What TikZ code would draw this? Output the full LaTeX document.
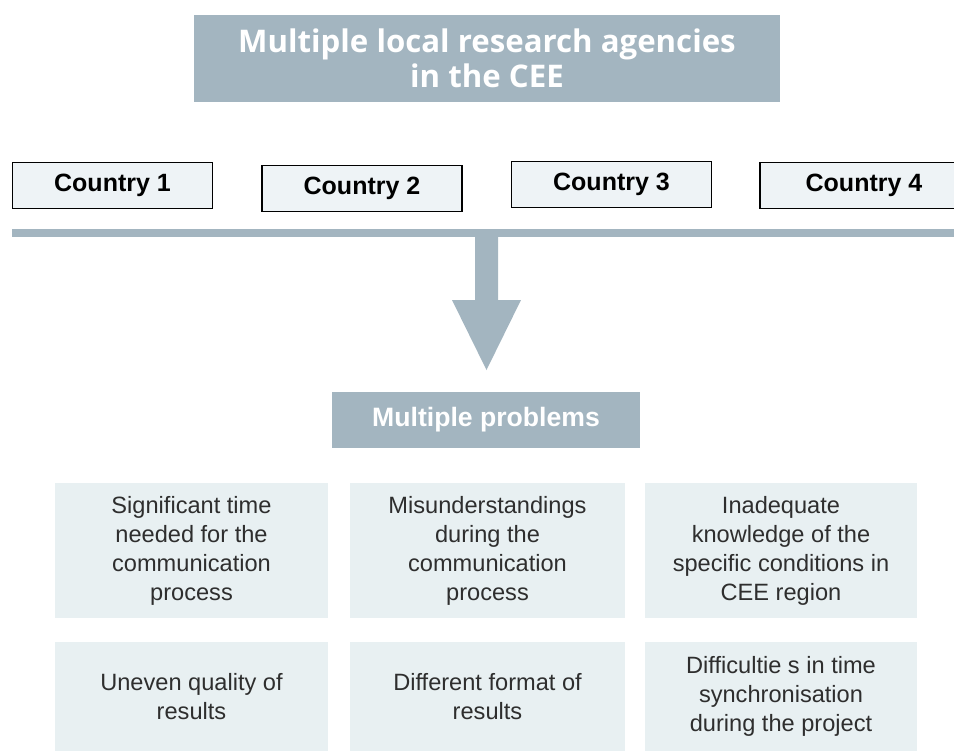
\documentclass[tikz,border=0pt]{standalone}
\usepackage{fontspec}
\setmainfont{Liberation Sans}
\newfontfamily\titlefont{Open Sans}
\usetikzlibrary{positioning}

\definecolor{slate}{HTML}{A3B5C0}
\definecolor{paleblue}{HTML}{EEF3F6}
\definecolor{mist}{HTML}{E8F0F2}
\definecolor{ink}{HTML}{2E2E2E}

\begin{document}
\begin{tikzpicture}[x=0.5pt, y=-0.5pt,
  header/.style={fill=slate, text=white, align=center, inner sep=0pt},
  country/.style={draw, fill=paleblue, line width=0.7pt, minimum width=100pt,
    minimum height=23pt, inner sep=0pt, font=\bfseries\fontsize{12.5}{15}\selectfont},
  problem/.style={fill=mist, text=ink, align=center, inner sep=0pt,
    font=\fontsize{11.8}{14.5}\selectfont}]

  \useasboundingbox (0,0) rectangle (954,751);

  % heading and countries
  \node[header, minimum width=293pt, minimum height=43.5pt,
    font=\titlefont\bfseries\fontsize{15.6}{17.5}\selectfont] (cee) at (487,58)
    {Multiple local research agencies\\in the CEE};

  \node[country] (c1) at (112.5,185.5) {Country 1};
  \node[country] (c2) at (362,188.5) {Country 2};
  \node[country] (c3) at (611.5,184.5) {Country 3};
  \node[country, minimum width=104pt] (c4) at (864,185.5) {Country 4};

  % bar and big arrow
  \fill[slate] (12,229) rectangle (954,237);
  \coordinate (tip) at (486.5,370);
  \fill[slate] (475,237) -- (498,237) -- (498,300) -- (521,300) -- (tip)
    -- (452,300) -- (475,300) -- cycle;

  \node[header, minimum width=154pt, minimum height=28pt,
    font=\bfseries\fontsize{13.3}{16}\selectfont] (mp) at (486,420) {Multiple problems};

  % problems
  \node[problem, minimum width=136.5pt, minimum height=67.5pt] (p1) at (191.5,550.5)
    {Significant time\\needed for the\\communication\\process};
  \node[problem, minimum width=137.5pt, minimum height=67.5pt] (p2) at (487.5,550.5)
    {Misunderstandings\\during the\\communication\\process};
  \node[problem, minimum width=136pt, minimum height=67.5pt] (p3) at (781,550.5)
    {Inadequate\\knowledge of the\\specific conditions in\\CEE region};
  \node[problem, minimum width=136.5pt, minimum height=54.5pt] (p4) at (191.5,696.5)
    {Uneven quality of\\results};
  \node[problem, minimum width=137.5pt, minimum height=54.5pt] (p5) at (487.5,696.5)
    {Different format of\\results};
  \node[problem, minimum width=136pt, minimum height=54.5pt] (p6) at (781,696.5)
    {Difficultie s in time\\synchronisation\\during the project};

\end{tikzpicture}
\end{document}
